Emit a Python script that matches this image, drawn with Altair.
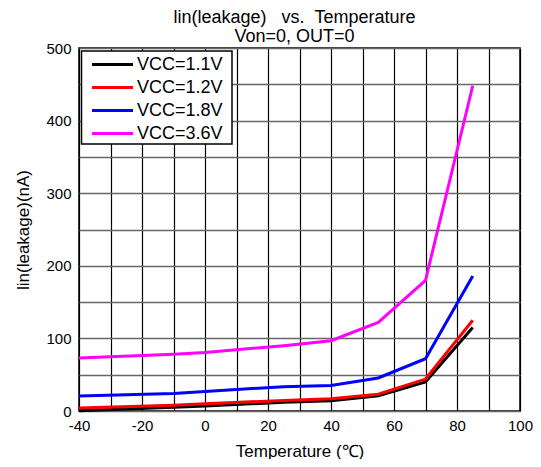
import altair as alt
import pandas as pd

temps = [-40, -10, 0, 25, 40, 55, 70, 85]
vcc11 = [0.5, 5, 7, 12, 14, 21, 40, 115]
vcc12 = [4, 8, 10, 14.5, 17, 23, 44, 125]
vcc18 = [20.7, 24, 27, 33.5, 35, 45.5, 72, 186]
vcc36 = [73, 78, 80.6, 90, 96.8, 122, 180, 448]
series = ["VCC=1.1V", "VCC=1.2V", "VCC=1.8V", "VCC=3.6V"]
colors = ["#000000", "#ff0000", "#0000ff", "#ff00ff"]
x_ticks = list(range(-40, 101, 10))
y_ticks = list(range(0, 501, 50))

rows = []
for name, vals in zip(series, [vcc11, vcc12, vcc18, vcc36]):
    for t, v in zip(temps, vals):
        rows.append({"T": t, "I": v, "series": name})
df = pd.DataFrame(rows)
leg_df = pd.DataFrame({"series": series})

FONT = "Liberation Sans"
NB = "\u00a0"
color_scale = alt.Scale(domain=series, range=colors)

lines = alt.Chart(df).mark_line(strokeWidth=3).encode(
    x=alt.X("T:Q",
            scale=alt.Scale(domain=[-40, 100], nice=False, zero=False),
            axis=alt.Axis(values=x_ticks,
                          labelExpr="datum.value % 20 == 0 ? '' + datum.value : ''",
                          labelFlush=False,
                          title="Temperature (℃)", grid=True, gridColor="#000000",
                          gridWidth=1.2, gridOpacity=1, ticks=False, domain=False,
                          labelPadding=7, labelFontSize=15, labelColor="#000000",
                          labelFont=FONT, titleFont=FONT, titleFontSize=17,
                          titleFontWeight="normal", titleColor="#000000",
                          titlePadding=10)),
    y=alt.Y("I:Q",
            scale=alt.Scale(domain=[0, 500], nice=False),
            axis=alt.Axis(values=y_ticks,
                          labelExpr="datum.value % 100 == 0 ? '' + datum.value : ''",
                          labelFlush=False,
                          title="lin(leakage)(nA)", grid=True, gridColor="#666666",
                          gridWidth=1.5, gridOpacity=1, ticks=False, domain=False,
                          labelPadding=8, labelFontSize=15, labelColor="#000000",
                          labelFont=FONT, titleFont=FONT, titleFontSize=17,
                          titleFontWeight="normal", titleColor="#000000",
                          titlePadding=13)),
    color=alt.Color("series:N", scale=color_scale, legend=None),
)

leg_y = alt.Y("series:N", scale=alt.Scale(type="point", domain=series,
                                          range=[16.5, 85.5], padding=0),
              axis=None)

leg_box = alt.Chart(pd.DataFrame({"k": [0]})).mark_rect(
    fill="#ffffff", stroke="#000000", strokeWidth=1.5
).encode(x=alt.value(2.5), x2=alt.value(153), y=alt.value(3), y2=alt.value(96))

leg_rules = alt.Chart(leg_df).mark_rule(strokeWidth=3).encode(
    x=alt.value(13), x2=alt.value(54), y=leg_y,
    color=alt.Color("series:N", scale=color_scale, legend=None),
)

leg_text = alt.Chart(leg_df).mark_text(
    align="left", baseline="middle", font=FONT, fontSize=18, color="#000000"
).encode(x=alt.value(58), y=leg_y, text="series:N")

chart = alt.layer(lines, leg_box, leg_rules, leg_text).resolve_scale(
    y="independent"
).properties(
    width=441,
    height=363,
    title=alt.TitleParams(["lin(leakage)" + NB * 3 + "vs." + NB * 2 + "Temperature",
                           "Von=0, OUT=0"],
                          font=FONT, fontSize=18, fontWeight="normal",
                          color="#000000", anchor="middle", offset=-5, dx=-5,
                          lineHeight=19),
    autosize=alt.AutoSizeParams(type="none"),
    padding={"left": 71, "top": 40, "right": 13, "bottom": 48},
).configure_view(stroke="#000000", strokeWidth=1.5)

chart.save("out.html", embed_options={"renderer": "svg", "actions": False})
